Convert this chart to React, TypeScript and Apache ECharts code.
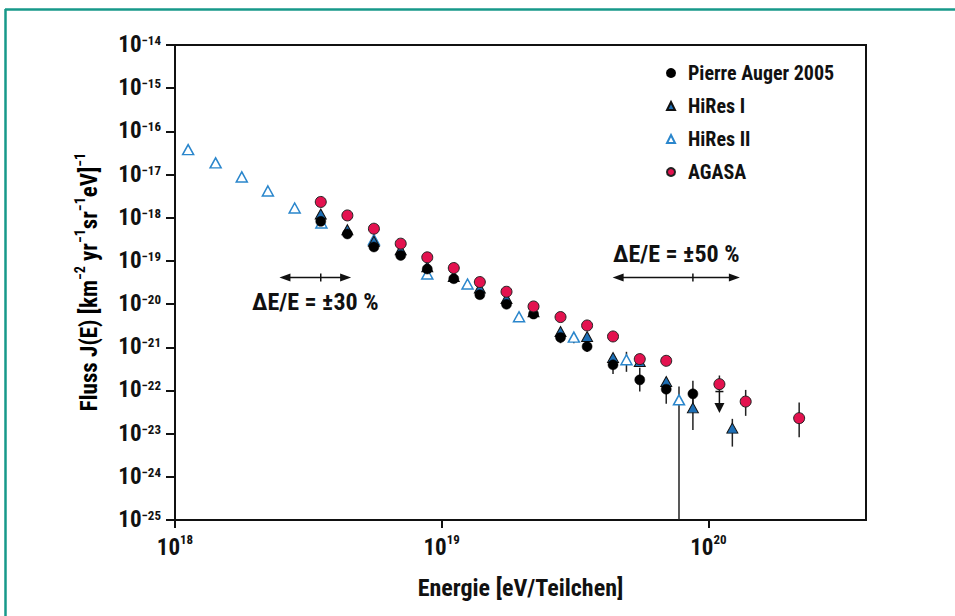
import React, { useEffect, useRef } from "react";
import * as echarts from "echarts";

// ---------- data ----------
const augerE = [3.52e18, 4.43e18, 5.57e18, 7.02e18, 8.83e18, 1.11e19, 1.39e19, 1.75e19, 2.21e19, 2.79e19, 3.51e19, 4.39e19, 5.53e19, 6.95e19, 8.75e19];
const augerJ = [8.24e-19, 4.21e-19, 2.1e-19, 1.34e-19, 6.49e-20, 3.87e-20, 1.65e-20, 9.91e-21, 5.88e-21, 1.69e-21, 1.04e-21, 3.93e-22, 1.76e-22, 1.07e-22, 8.35e-23];

const hires1E = [3.52e18, 4.43e18, 5.57e18, 7.02e18, 8.83e18, 1.11e19, 1.39e19, 1.75e19, 2.21e19, 2.79e19, 3.51e19, 4.39e19, 5.53e19, 6.95e19, 8.75e19, 1.23e20];
const hires1J = [1.22e-18, 5.29e-19, 2.86e-19, 1.82e-19, 7.34e-20, 4.37e-20, 2.35e-20, 1.35e-20, 6.64e-21, 2.32e-21, 1.78e-21, 5.8e-22, 4.68e-22, 1.61e-22, 3.95e-23, 1.34e-23];

const hires2E = [1.12e18, 1.42e18, 1.78e18, 2.23e18, 2.81e18, 3.54e18, 5.57e18, 8.83e18, 1.25e19, 1.95e19, 3.13e19, 4.93e19, 7.76e19];
const hires2J = [3.78e-17, 1.86e-17, 8.81e-18, 4.17e-18, 1.68e-18, 7.56e-19, 3.1e-19, 4.97e-20, 2.92e-20, 5.09e-21, 1.72e-21, 5.13e-22, 6.07e-23];

const agasaE = [3.52e18, 4.43e18, 5.57e18, 7.02e18, 8.83e18, 1.11e19, 1.39e19, 1.75e19, 2.21e19, 2.79e19, 3.51e19, 4.39e19, 5.53e19, 6.95e19, 1.1e20, 1.38e20, 2.19e20];
const agasaJ = [2.32e-18, 1.13e-18, 5.57e-19, 2.51e-19, 1.21e-19, 6.84e-20, 3.24e-20, 1.93e-20, 8.81e-21, 5.01e-21, 3.2e-21, 1.78e-21, 5.32e-22, 4.86e-22, 1.4e-22, 5.53e-23, 2.28e-23];

// error bars: energy, lower, upper
const augerErrE = [2.79e19, 3.51e19, 4.39e19, 5.53e19, 6.95e19, 8.75e19];
const augerErrLo = [1.24e-21, 7.8e-22, 2.39e-22, 9.44e-23, 4.9e-23, 4.5e-23];
const augerErrHi = [2.0e-21, 1.2e-21, 5.13e-22, 3.34e-22, 1.96e-22, 1.67e-22];

const hires1ErrE = [8.75e19, 1.23e20];
const hires1ErrLo = [1.22e-23, 5.01e-24];
const hires1ErrHi = [7.91e-23, 2.2e-23];

const hires2ErrE = [3.13e19, 4.93e19, 7.76e19];
const hires2ErrLo = [1.24e-21, 2.7e-22, 1e-25];
const hires2ErrHi = [1.9e-21, 7.85e-22, 1.23e-22];

const agasaErrE = [1.1e20, 1.38e20, 2.19e20];
const agasaErrLo = [9.44e-23, 2.58e-23, 8.28e-24];
const agasaErrHi = [2.22e-22, 1.03e-22, 5.25e-23];

// Auger upper limit: energy, limit value, arrow tip
const augerLimitE = [1.1e20];
const augerLimitJ = [9.44e-23];
const augerLimitTip = [3.0e-23];

// energy-resolution arrows
const resE = [3.52e18, 8.75e19];
const resFrac = [0.3, 0.5];
const resJ = [4.15e-20, 4.15e-20];
const resLabels = ["ΔE/E = ±30 %", "ΔE/E = ±50 %"];

const seriesNames = ["Pierre Auger 2005", "HiRes I", "HiRes II", "AGASA"];
const xTickExps = [18, 19, 20];
const yTickExps = [-25, -24, -23, -22, -21, -20, -19, -18, -17, -16, -15, -14];
const xTitle = "Energie [eV/Teilchen]";

// ---------- styling ----------
const FONT = "'Liberation Sans Narrow', 'Roboto Condensed', 'DejaVu Sans Condensed', 'Arial Narrow', 'Liberation Sans', sans-serif";
const INK = "#111";
const TEAL = "#17998a";

const zip = (a: number[], b: number[]) => a.map((v, i) => [v, b[i]]);
const zip3 = (a: number[], b: number[], c: number[]) => a.map((v, i) => [v, b[i], c[i]]);
const p10 = (e: number) => Number(`1e${e}`);
const supExp = (v: number) => {
  const e = Math.round(Math.log10(v));
  return String(e).replace("-", "\u2212");
};

function buildOption() {
  const errData = [
    ...zip3(augerErrE, augerErrLo, augerErrHi),
    ...zip3(hires1ErrE, hires1ErrLo, hires1ErrHi),
    ...zip3(hires2ErrE, hires2ErrLo, hires2ErrHi),
    ...zip3(agasaErrE, agasaErrLo, agasaErrHi),
  ];
  const limitData = zip3(augerLimitE, augerLimitJ, augerLimitTip);
  const resData = resE.map((e, i) => [e, resJ[i], resFrac[i], i]);

  const labelRichX = {
    b: { fontFamily: FONT, fontWeight: "bold", fontSize: 23, color: INK, lineHeight: 26, verticalAlign: "bottom" },
    s: { fontFamily: FONT, fontWeight: "bold", fontSize: 13, color: INK, lineHeight: 26, verticalAlign: "top" },
  };
  const labelRichY = {
    b: { fontFamily: FONT, fontWeight: "bold", fontSize: 23, color: INK, lineHeight: 22, verticalAlign: "bottom" },
    s: { fontFamily: FONT, fontWeight: "bold", fontSize: 13, color: INK, lineHeight: 22, verticalAlign: "top" },
  };
  const titleRich = {
    b: { fontFamily: FONT, fontWeight: "bold", fontSize: 23, color: INK, lineHeight: 28, verticalAlign: "bottom" },
    s: { fontFamily: FONT, fontWeight: "bold", fontSize: 14, color: INK, lineHeight: 28, verticalAlign: "top" },
  };

  return {
    animation: false,
    backgroundColor: "#fff",
    grid: { left: 175, top: 45, right: 89, bottom: 96, show: true, borderColor: INK, borderWidth: 2, backgroundColor: "transparent" },
    xAxis: {
      type: "log",
      logBase: 10,
      min: p10(18),
      max: 3.9e20,
      splitLine: { show: false },
      axisLine: { show: true, lineStyle: { color: INK, width: 2 } },
      axisTick: { show: true, inside: false, length: 8, lineStyle: { color: INK, width: 2 }, customValues: xTickExps.map(p10) },
      minorTick: { show: false },
      axisLabel: {
        customValues: xTickExps.map(p10),
        margin: 13,
        formatter: (v: number) => `{b|10}{s|${supExp(v)}}`,
        rich: labelRichX,
      },
      name: xTitle,
      nameLocation: "middle",
      nameGap: 56,
      nameTextStyle: { fontFamily: FONT, fontWeight: "bold", fontSize: 24, color: INK },
    },
    yAxis: {
      type: "log",
      logBase: 10,
      min: p10(-25),
      max: p10(-14),
      splitLine: { show: false },
      axisLine: { show: true, lineStyle: { color: INK, width: 2 } },
      axisTick: { show: true, inside: false, length: 9, lineStyle: { color: INK, width: 2 }, customValues: yTickExps.map(p10) },
      minorTick: { show: false },
      axisLabel: {
        customValues: yTickExps.map(p10),
        margin: 14,
        formatter: (v: number) => `{b|10}{s|${supExp(v)}}`,
        rich: labelRichY,
      },
    },
    legend: {
      data: seriesNames,
      orient: "vertical",
      left: 666,
      top: 61,
      padding: 0,
      itemWidth: 8,
      itemHeight: 8,
      itemGap: 9,
      selectedMode: false,
      textStyle: { fontFamily: FONT, fontWeight: "bold", fontSize: 20, lineHeight: 24, color: INK, padding: [0, 0, 0, 8] },
    },
    graphic: [
      { type: "line", shape: { x1: 5, y1: 9.5, x2: 955, y2: 9.5 }, style: { stroke: TEAL, lineWidth: 2.5 } },
      { type: "line", shape: { x1: 5.5, y1: 9, x2: 5.5, y2: 616 }, style: { stroke: TEAL, lineWidth: 2.5 } },
      {
        type: "text",
        x: 87,
        y: 282,
        rotation: Math.PI / 2,
        style: {
          text: "{b|Fluss J(E) [km}{s|\u22122}{b| yr}{s|\u22121}{b|sr}{s|\u22121}{b|eV]}{s|\u22121}",
          rich: titleRich,
          align: "center",
          verticalAlign: "middle",
        },
      },
    ],
    series: [
      {
        type: "custom",
        name: "errors",
        z: 1,
        silent: true,
        data: errData,
        encode: { x: 0, y: [1, 2] },
        renderItem: (_p: any, api: any) => {
          const a = api.coord([api.value(0), api.value(1)]);
          const b = api.coord([api.value(0), api.value(2)]);
          return { type: "line", shape: { x1: a[0], y1: a[1], x2: b[0], y2: b[1] }, style: { stroke: "#222", lineWidth: 1.5 } };
        },
      },
      {
        type: "scatter",
        name: "HiRes II",
        z: 2,
        symbol: "triangle",
        symbolSize: [11, 10],
        itemStyle: { color: "#fff", borderColor: "#2a86cc", borderWidth: 1.5, opacity: 1 },
        data: zip(hires2E, hires2J),
      },
      {
        type: "scatter",
        name: "HiRes I",
        z: 3,
        symbol: "triangle",
        symbolSize: [11, 10],
        itemStyle: { color: "#1d6fb6", borderColor: "#111", borderWidth: 1, opacity: 1 },
        data: zip(hires1E, hires1J),
      },
      {
        type: "scatter",
        name: "Pierre Auger 2005",
        z: 4,
        symbol: "circle",
        symbolSize: 10,
        itemStyle: { color: "#000", borderColor: "#000", borderWidth: 0.5, opacity: 1 },
        data: zip(augerE, augerJ),
      },
      {
        type: "scatter",
        name: "AGASA",
        z: 5,
        symbol: "circle",
        symbolSize: 11,
        itemStyle: { color: "#e3124f", borderColor: "#222", borderWidth: 1, opacity: 1 },
        data: zip(agasaE, agasaJ),
      },
      {
        type: "custom",
        name: "limits",
        z: 6,
        silent: true,
        data: limitData,
        encode: { x: 0, y: [1, 2] },
        renderItem: (_p: any, api: any) => {
          const top = api.coord([api.value(0), api.value(1)]);
          const tip = api.coord([api.value(0), api.value(2)]);
          return {
            type: "group",
            children: [
              { type: "line", shape: { x1: top[0] - 4, y1: top[1], x2: top[0] + 4, y2: top[1] }, style: { stroke: INK, lineWidth: 1.5 } },
              { type: "line", shape: { x1: top[0], y1: top[1], x2: tip[0], y2: tip[1] - 8 }, style: { stroke: INK, lineWidth: 1.5 } },
              { type: "polygon", shape: { points: [[tip[0], tip[1]], [tip[0] - 5, tip[1] - 10], [tip[0] + 5, tip[1] - 10]] }, style: { fill: INK } },
            ],
          };
        },
      },
      {
        type: "custom",
        name: "resolution",
        z: 6,
        silent: true,
        data: resData,
        encode: { x: 0, y: 1 },
        renderItem: (_p: any, api: any) => {
          const e = api.value(0);
          const j = api.value(1);
          const f = api.value(2);
          const idx = api.value(3);
          const l = api.coord([e * (1 - f), j]);
          const r = api.coord([e * (1 + f), j]);
          const c = api.coord([e, j]);
          const y = c[1];
          const textDy = idx === 0 ? 25 : -23;
          return {
            type: "group",
            children: [
              { type: "line", shape: { x1: l[0] + 6, y1: y, x2: r[0] - 6, y2: y }, style: { stroke: INK, lineWidth: 1.5 } },
              { type: "polygon", shape: { points: [[l[0], y], [l[0] + 11, y - 4], [l[0] + 11, y + 4]] }, style: { fill: INK } },
              { type: "polygon", shape: { points: [[r[0], y], [r[0] - 11, y - 4], [r[0] - 11, y + 4]] }, style: { fill: INK } },
              { type: "line", shape: { x1: c[0], y1: y - 4, x2: c[0], y2: y + 4 }, style: { stroke: INK, lineWidth: 1.5 } },
              {
                type: "text",
                x: (l[0] + r[0]) / 2,
                y: y + textDy,
                style: {
                  text: resLabels[idx],
                  fontFamily: FONT,
                  fontWeight: "bold",
                  fontSize: 24,
                  fill: INK,
                  align: "center",
                  verticalAlign: "middle",
                },
              },
            ],
          };
        },
      },
    ],
  };
}

export default function App() {
  const ref = useRef<HTMLDivElement>(null);
  useEffect(() => {
    if (!ref.current) return;
    const chart = echarts.init(ref.current, null, { renderer: "svg" });
    chart.setOption(buildOption() as any);
    return () => chart.dispose();
  }, []);
  return (
    <div
      ref={ref}
      style={{ position: "fixed", left: 0, top: 0, width: 955, height: 616, background: "#fff" }}
    />
  );
}
